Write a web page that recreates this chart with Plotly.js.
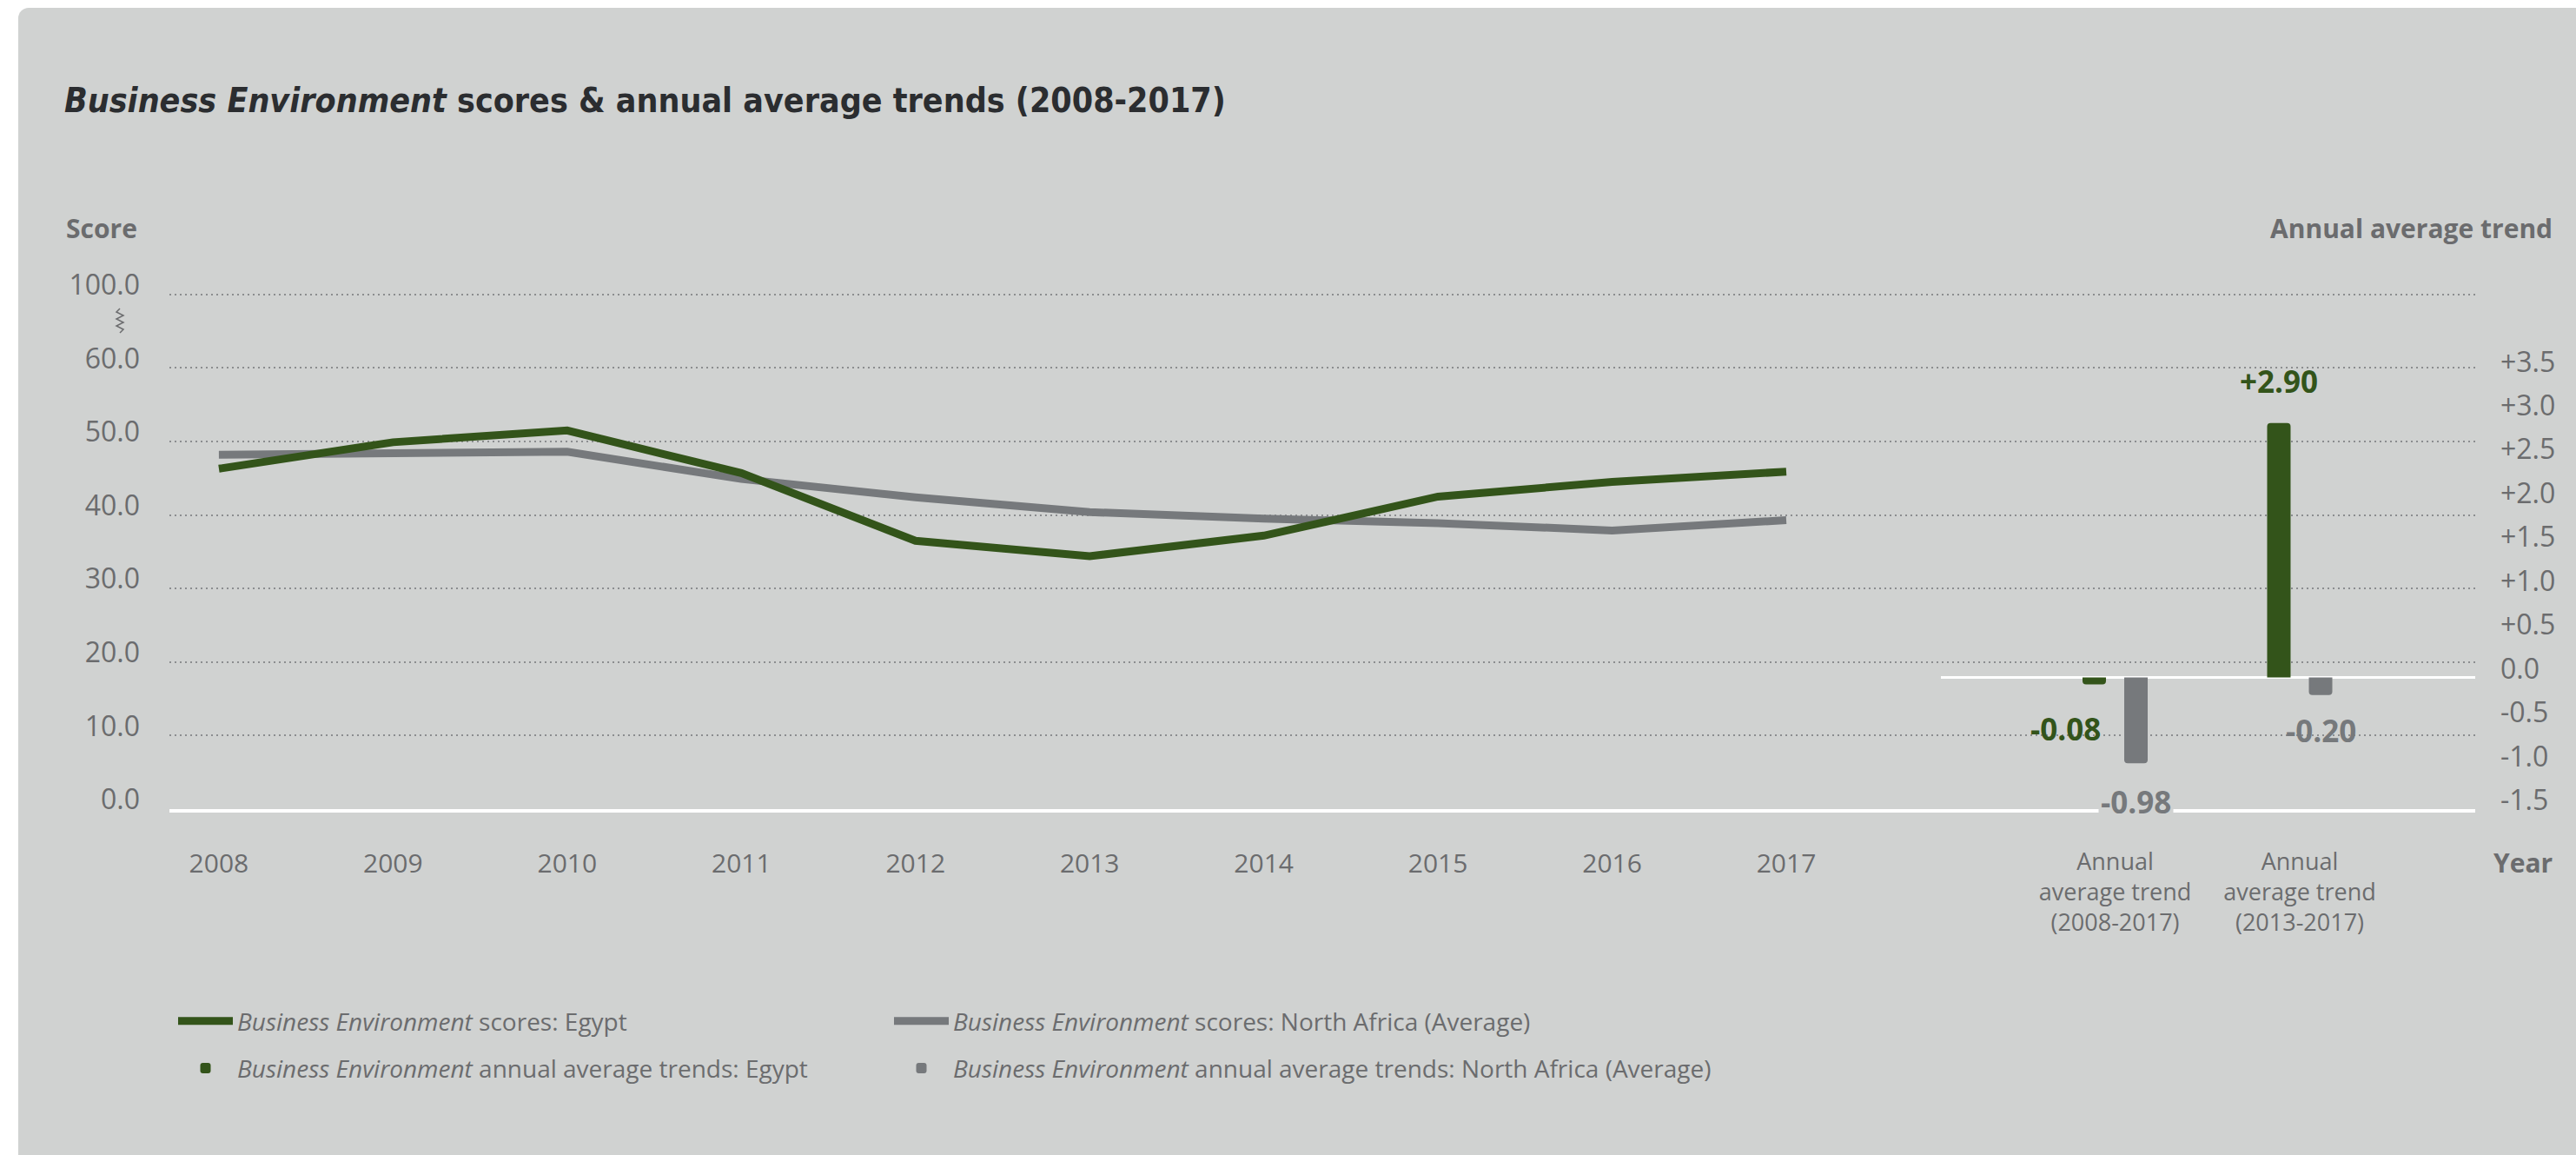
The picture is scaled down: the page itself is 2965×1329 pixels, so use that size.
<!DOCTYPE html>
<html>
<head>
<meta charset="utf-8">
<script src="https://cdn.plot.ly/plotly-3.0.1.min.js"></script>
<style>
  html, body { margin: 0; padding: 0; background: #ffffff; width: 2965px; height: 1329px; overflow: hidden; }
  #card { position: absolute; left: 21px; top: 9px; right: 0; bottom: 0; background: #d0d2d1; border-top-left-radius: 12px; }
  #chart { position: absolute; left: 0; top: 0; width: 2965px; height: 1329px; }
</style>
</head>
<body>
<div id="card"></div>
<div id="chart"></div>
<script>
// ---- data ----
const years = [2008, 2009, 2010, 2011, 2012, 2013, 2014, 2015, 2016, 2017];
const egyptScores = [46.3, 49.9, 51.5, 45.7, 36.5, 34.4, 37.2, 42.5, 44.5, 45.9];
const northAfricaScores = [48.2, 48.4, 48.6, 44.9, 42.4, 40.4, 39.5, 38.9, 37.9, 39.3];
const trendCategories = ["Annual<br>average trend<br>(2008-2017)", "Annual<br>average trend<br>(2013-2017)"];
const egyptTrends = [-0.08, 2.90];
const northAfricaTrends = [-0.98, -0.20];
const scoreTickVals = [0, 10, 20, 30, 40, 50, 60, 70];
const scoreTickText = ["0.0", "10.0", "20.0", "30.0", "40.0", "50.0", "60.0", "100.0"];
const trendTickVals = [-1.5, -1.0, -0.5, 0, 0.5, 1.0, 1.5, 2.0, 2.5, 3.0, 3.5];
const trendTickText = ["-1.5", "-1.0", "-0.5", "0.0", "+0.5", "+1.0", "+1.5", "+2.0", "+2.5", "+3.0", "+3.5"];

// ---- style ----
const GREEN = "#33541a";
const GREY = "#76797c";
const TEXT = "#6b6c6e";
const BASE_FONT = "Open Sans, Noto Sans, Roboto, sans-serif";
const COND_FONT = "Liberation Sans Narrow, DejaVu Sans Condensed, Roboto Condensed, Open Sans, sans-serif";

// plot area in pixels
const W = 2965, H = 1329;
const L = 195, R = 2849, T = 300, B = 931;
const px = x => (x - L) / (R - L);
const py = y => (B - y) / (B - T);

const fmt = v => (v > 0 ? "+" : "") + v.toFixed(2);

const traces = [
  { type: "scatter", mode: "lines", x: years, y: northAfricaScores, name: "<i>Business Environment</i> scores: North Africa (Average)",
    line: { color: GREY, width: 9 }, legend: "legend2", legendgroup: "na1", hoverinfo: "x+y" },
  { type: "scatter", mode: "lines", x: years, y: egyptScores, name: "<i>Business Environment</i> scores: Egypt",
    line: { color: GREEN, width: 9 }, legend: "legend", legendgroup: "eg1", hoverinfo: "x+y" },
  { type: "bar", x: trendCategories, y: egyptTrends, xaxis: "x2", yaxis: "y2",
    name: "<i>Business Environment</i> annual average trends: Egypt",
    marker: { color: GREEN, cornerradius: 4 }, width: 0.127, offset: -0.1765, legend: "legend", legendgroup: "eg2" },
  { type: "bar", x: trendCategories, y: northAfricaTrends, xaxis: "x2", yaxis: "y2",
    name: "<i>Business Environment</i> annual average trends: North Africa (Average)",
    marker: { color: GREY, cornerradius: 4 }, width: 0.127, offset: 0.0495, legend: "legend2", legendgroup: "na2" }
];

// value labels
const annotations = [];
const labelShift = [[-57, -51], [-24, 48]];  // egypt: per category [xshift, yshift]
const labelShiftNA = [[24, -44], [24, -41]];
egyptTrends.forEach((v, i) => {
  annotations.push({ xref: "x2", yref: "y2", x: trendCategories[i], y: v, text: "<b>" + fmt(v) + "</b>",
    showarrow: false, xshift: labelShift[i][0], yshift: labelShift[i][1], xanchor: "center", yanchor: "middle",
    font: { family: BASE_FONT, size: 35, color: GREEN } });
});
northAfricaTrends.forEach((v, i) => {
  annotations.push({ xref: "x2", yref: "y2", x: trendCategories[i], y: v, text: "<b>" + fmt(v) + "</b>",
    showarrow: false, xshift: labelShiftNA[i][0], yshift: labelShiftNA[i][1], xanchor: "center", yanchor: "middle",
    bgcolor: i === 0 ? "#d0d2d1" : "rgba(0,0,0,0)", borderpad: 2,
    font: { family: BASE_FONT, size: 35, color: GREY } });
});
annotations.push(
  { xref: "paper", yref: "paper", x: px(160), y: py(263), xanchor: "right", yanchor: "middle", showarrow: false,
    text: "<b>Score</b>", font: { family: BASE_FONT, size: 30, color: TEXT } },
  { xref: "paper", yref: "paper", x: px(2940), y: py(263), xanchor: "right", yanchor: "middle", showarrow: false,
    text: "<b>Annual average trend</b>", font: { family: BASE_FONT, size: 30, color: TEXT } },
  { xref: "paper", yref: "paper", x: px(2940), y: py(992), xanchor: "right", yanchor: "middle", showarrow: false,
    text: "<b>Year</b>", font: { family: BASE_FONT, size: 30, color: TEXT } }
);

// axis-break zigzag
let zz = "M" + px(138) + "," + py(355);
const zy = [359, 363, 367, 371, 375, 379];
zy.forEach((y, i) => { zz += " L" + px(i % 2 === 0 ? 134 : 142) + "," + py(y); });
zz += " L" + px(138) + "," + py(383);

const shapes = [
  { type: "line", xref: "paper", yref: "y2", x0: px(2234), x1: 1, y0: 0, y1: 0, line: { color: "#ffffff", width: 3 }, layer: "below" },
  { type: "path", xref: "paper", yref: "paper", path: zz, line: { color: TEXT, width: 1.5 } }
];

const layout = {
  width: W, height: H,
  paper_bgcolor: "rgba(0,0,0,0)", plot_bgcolor: "rgba(0,0,0,0)",
  margin: { l: L, r: W - R, t: T, b: H - B, pad: 0 },
  title: { text: "<i>Business Environment</i> scores & annual average trends (2008-2017)",
    xref: "container", yref: "container", x: 74 / W, xanchor: "left", y: 1 - 115 / H, yanchor: "middle",
    font: { family: COND_FONT, size: 39, color: "#2b2d30", weight: "bold" } },
  showlegend: true,
  barmode: "overlay",
  xaxis: { type: "linear", range: [2007.716, 2020.956], tickvals: years, ticktext: years.map(String),
    showgrid: false, zeroline: false, showline: true, linecolor: "#ffffff", linewidth: 4,
    ticks: "", ticklabelstandoff: 33, tickfont: { family: BASE_FONT, size: 30, color: TEXT }, fixedrange: true },
  xaxis2: { type: "category", overlaying: "x", anchor: "y", side: "bottom", range: [-10.539, 1.9506],
    showgrid: false, zeroline: false, showline: false, ticks: "", ticklabelstandoff: 42,
    tickfont: { family: BASE_FONT, size: 27, color: TEXT }, fixedrange: true },
  yaxis: { range: [0, 74.59], tickvals: scoreTickVals, ticktext: scoreTickText,
    showgrid: true, gridcolor: "#8b8d8f", gridwidth: 2, griddash: "2px,4px", zeroline: false, showline: false,
    ticks: "", ticklabelstandoff: 33, ticklabelshift: -11, tickfont: { family: BASE_FONT, size: 32, color: TEXT }, fixedrange: true },
  yaxis2: { overlaying: "y", side: "right", anchor: "x", range: [-1.502, 4.752],
    tickvals: trendTickVals, ticktext: trendTickText, showgrid: false, zeroline: false, showline: false,
    ticks: "", ticklabelstandoff: 28, ticklabelshift: -10, tickfont: { family: BASE_FONT, size: 32, color: TEXT }, fixedrange: true },
  legend: { x: px(200), xanchor: "left", y: py(1150), yanchor: "top", orientation: "v", itemwidth: 63,
    traceorder: "grouped", tracegroupgap: 15, bgcolor: "rgba(0,0,0,0)",
    font: { family: BASE_FONT, size: 28, color: TEXT } },
  legend2: { x: px(1024), xanchor: "left", y: py(1150), yanchor: "top", orientation: "v", itemwidth: 63,
    traceorder: "grouped", tracegroupgap: 15, bgcolor: "rgba(0,0,0,0)",
    font: { family: BASE_FONT, size: 28, color: TEXT } },
  annotations: annotations,
  shapes: shapes
};

Plotly.newPlot("chart", traces, layout, { displayModeBar: false, staticPlot: true });
</script>
</body>
</html>
